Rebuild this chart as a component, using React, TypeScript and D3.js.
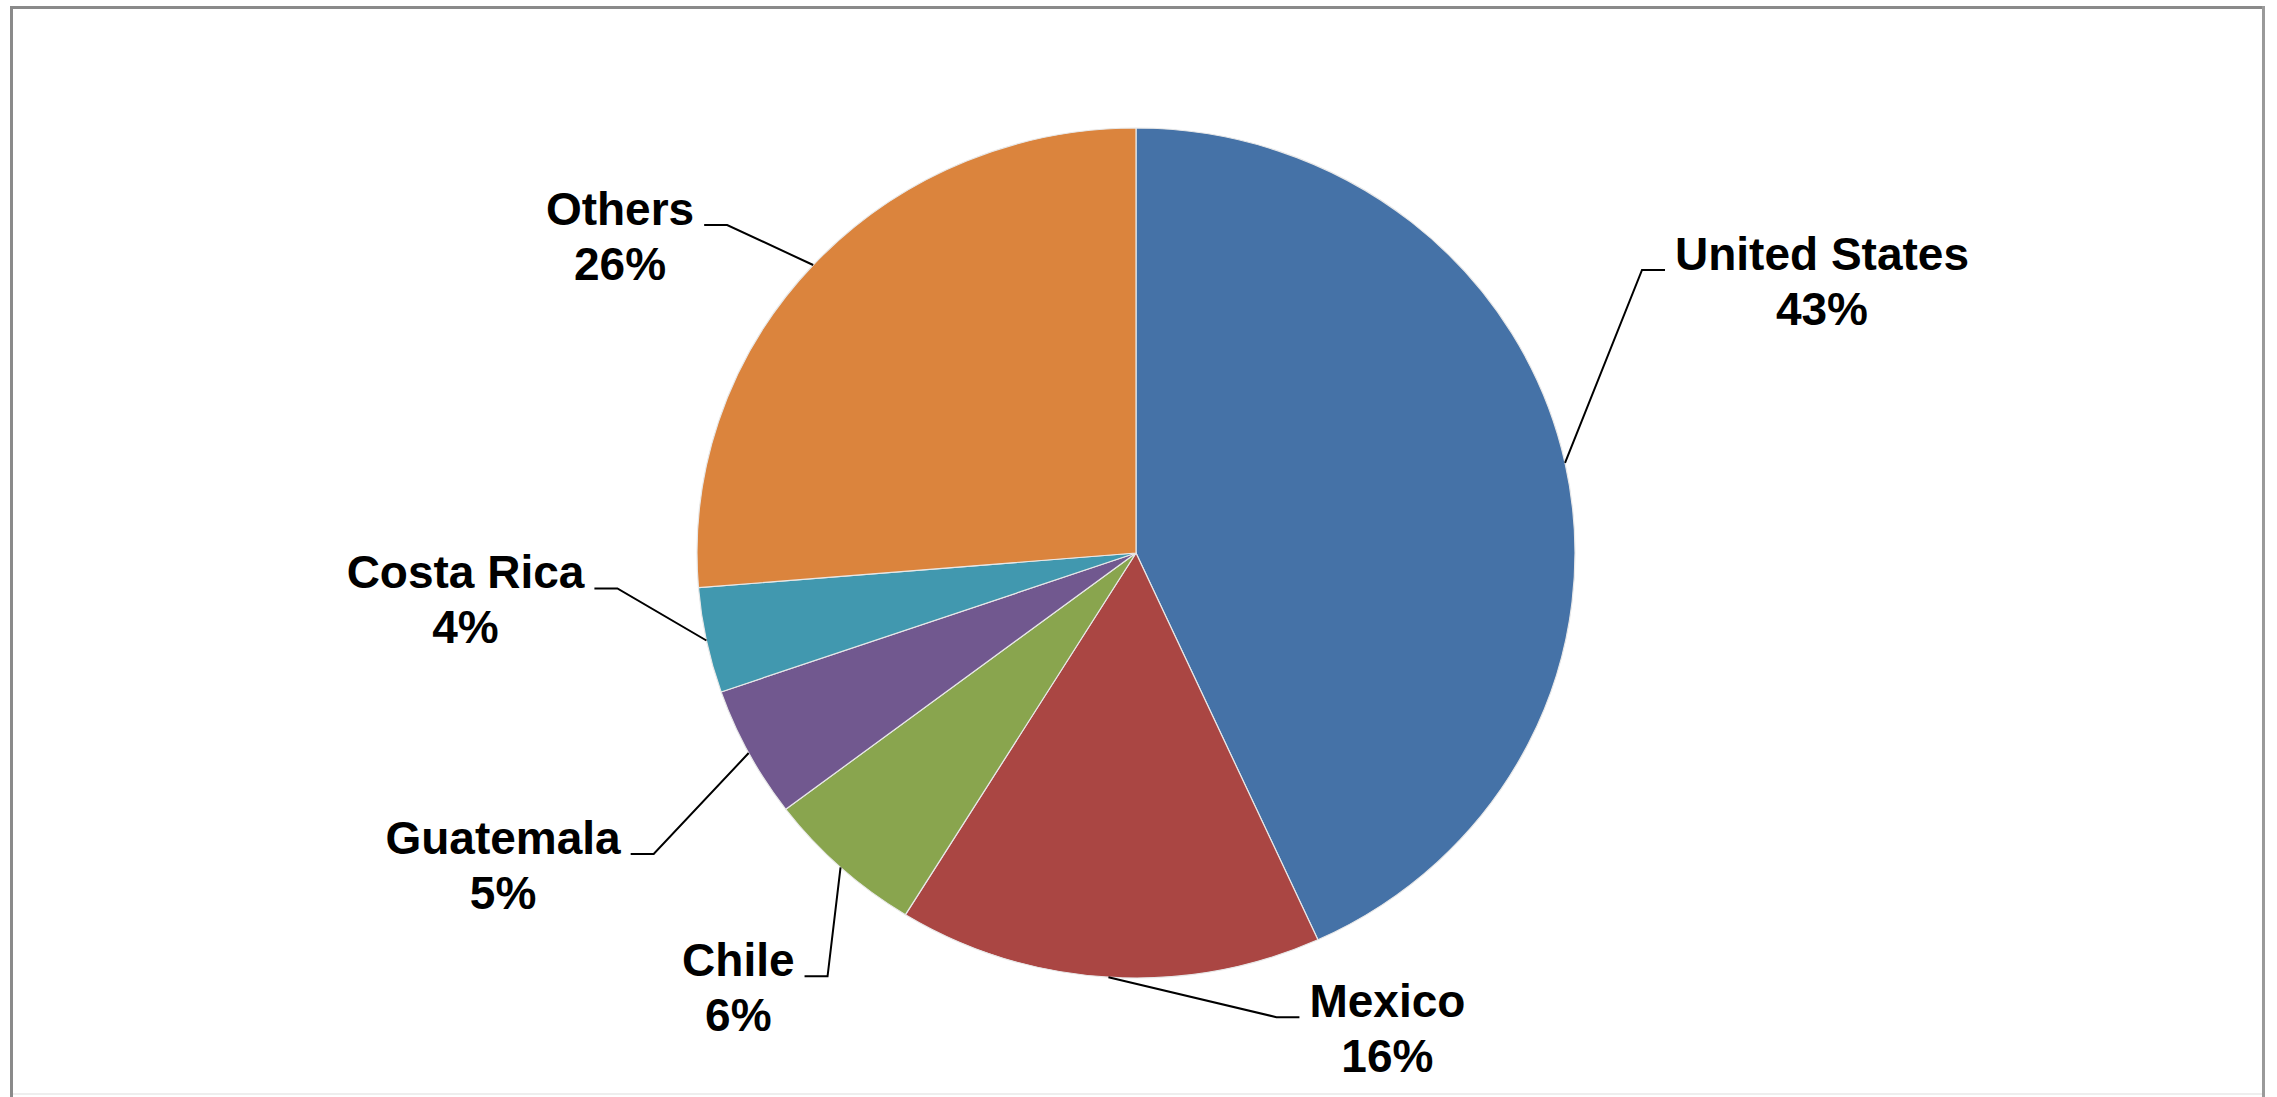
import React from "react";
import * as d3 from "d3";

const categories = ["United States", "Mexico", "Chile", "Guatemala", "Costa Rica", "Others"];
const shares = [43.2, 15.6, 5.9, 5.0, 4.0, 26.3];
const percentLabels = ["43%", "16%", "6%", "5%", "4%", "26%"];
const sliceColors = ["#4572A7", "#AA4643", "#89A54E", "#71588F", "#4198AF", "#DB843D"];

// layout: elbow offset of each leader line from the slice's outer edge midpoint
const leaderOffsets: [number, number][] = [
  [77, -193],
  [168, 40],
  [-13, 109],
  [-95, 101],
  [-89, -52],
  [-86, -40],
];

const W = 2277;
const H = 1097;
const CX = 1136;
const CY = 553;
const RX = 439;
const RY = 425;
const FONT_SIZE = 46;
const FONT = `bold ${FONT_SIZE}px 'Liberation Sans', Arial, sans-serif`;

function measure(text: string): number {
  const c = document.createElement("canvas");
  const ctx = c.getContext("2d");
  if (!ctx) return text.length * FONT_SIZE * 0.55;
  ctx.font = FONT;
  return ctx.measureText(text).width;
}

export default function App() {
  const pie = d3.pie<number>().sort(null).value((d) => d);
  const arcs = pie(shares);
  const arcGen = d3.arc<d3.PieArcDatum<number>>().innerRadius(0).outerRadius(RX);

  return (
    <svg
      width={W}
      height={H}
      style={{ position: "absolute", left: 0, top: 0, background: "#fff" }}
    >
      <rect x={0} y={0} width={W} height={H} fill="#fff" />
      {/* frame */}
      <line x1={11.5} y1={6} x2={11.5} y2={H} stroke="#8a8a8a" strokeWidth={3} />
      <line x1={10} y1={7.5} x2={2265} y2={7.5} stroke="#8a8a8a" strokeWidth={3} />
      <line x1={2263.5} y1={6} x2={2263.5} y2={H} stroke="#9a9a9a" strokeWidth={3} />
      <line x1={13} y1={1094} x2={2262} y2={1094} stroke="#eeeeee" strokeWidth={2} />

      <g transform={`translate(${CX},${CY}) scale(1,${RY / RX})`}>
        {arcs.map((a, i) => (
          <path
            key={categories[i]}
            d={arcGen(a) || ""}
            fill={sliceColors[i]}
            stroke="#e8e8e8"
            strokeWidth={1.2}
            strokeLinejoin="round"
          />
        ))}
      </g>

      {arcs.map((a, i) => {
        const mid = (a.startAngle + a.endAngle) / 2;
        const ex = CX + RX * Math.sin(mid);
        const ey = CY - RY * Math.cos(mid);
        const [dx, dy] = leaderOffsets[i];
        const bx = ex + dx;
        const by = ey + dy;
        const right = dx > 0;
        const hx = right ? bx + 23 : bx - 23;
        const w = measure(categories[i]);
        const textCenter = right ? hx + 10 + w / 2 : hx - 10 - w / 2;
        return (
          <g key={"lbl" + i}>
            <polyline
              points={`${ex},${ey} ${bx},${by} ${hx},${by}`}
              fill="none"
              stroke="#000"
              strokeWidth={2}
            />
            <text
              x={textCenter}
              y={by}
              textAnchor="middle"
              style={{ font: FONT }}
              fill="#000"
            >
              {categories[i]}
            </text>
            <text
              x={textCenter}
              y={by + 55}
              textAnchor="middle"
              style={{ font: FONT }}
              fill="#000"
            >
              {percentLabels[i]}
            </text>
          </g>
        );
      })}
    </svg>
  );
}
